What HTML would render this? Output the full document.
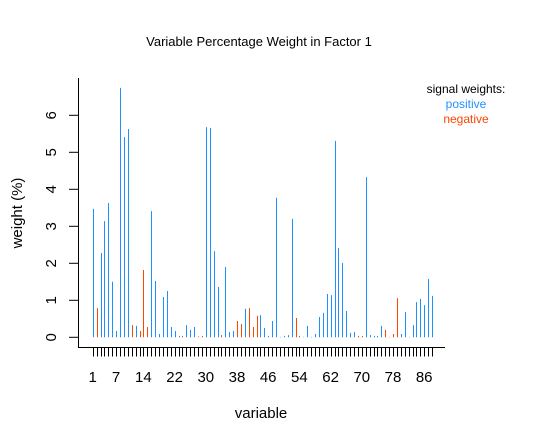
<!DOCTYPE html>
<html><head><meta charset="utf-8"><style>
body{margin:0;background:#fff}
svg{display:block;font-family:"Liberation Sans",Arial,sans-serif}
</style></head><body>
<svg id="chart" width="541" height="445" viewBox="0 0 541 445">
<text x="259" y="46" font-size="13" text-anchor="middle">Variable Percentage Weight in Factor 1</text>
<line x1="78.5" y1="78" x2="78.5" y2="347.5" stroke="#000"/>
<line x1="78" y1="347.5" x2="445" y2="347.5" stroke="#000"/>
<g id="yaxis"></g>
<g id="xaxis"></g>
<g id="bars"></g>
<text transform="translate(22,213) rotate(-90)" font-size="15" text-anchor="middle">weight (%)</text>
<text x="261" y="418" font-size="15" text-anchor="middle">variable</text>
<g>
<text x="466" y="93" font-size="12" text-anchor="middle">signal weights:</text>
<text x="466" y="108" font-size="12" text-anchor="middle" fill="#1E90FF">positive</text>
<text x="466" y="123" font-size="12" text-anchor="middle" fill="#FF4500">negative</text>
</g>
</svg>
<script>
const weights=[3.47,0.79,2.28,3.14,3.63,1.50,0.17,6.74,5.41,5.63,0.33,0.31,0.17,1.82,0.28,3.41,1.52,0.09,1.09,1.25,0.28,0.17,0.04,0.04,0.33,0.20,0.28,0.02,0.04,5.68,5.66,2.33,1.36,0.06,1.90,0.14,0.17,0.44,0.36,0.77,0.79,0.28,0.58,0.60,0.25,0.04,0.44,3.77,0.01,0.04,0.06,3.20,0.52,0.04,0.01,0.31,0.01,0.09,0.55,0.66,1.17,1.14,5.31,2.41,2.01,0.71,0.12,0.14,0.04,0.04,4.33,0.06,0.04,0.04,0.31,0.20,0.01,0.09,1.06,0.09,0.68,0.01,0.33,0.95,1.04,0.87,1.58,1.12];
const signs=[1,-1,1,1,1,1,1,1,1,1,-1,1,-1,-1,-1,1,1,1,1,1,1,1,1,-1,1,1,1,-1,-1,1,1,1,1,-1,1,1,1,-1,-1,1,-1,-1,-1,1,1,1,1,1,1,1,1,1,-1,-1,1,1,1,1,1,1,1,1,1,1,1,1,1,1,-1,-1,1,1,1,1,1,-1,-1,-1,-1,1,1,-1,1,1,1,1,1,1];
const yTicks=[0,1,2,3,4,5,6];
const xLabels=[1,7,14,22,30,38,46,54,62,70,78,86];
const NS="http://www.w3.org/2000/svg";
function xs(i){return 92.7+(i-1)*3.9;}
function ys(v){return 337.3-v*37;}
function mk(t,a,p){const e=document.createElementNS(NS,t);for(const k in a)e.setAttribute(k,a[k]);p.appendChild(e);return e;}
const yg=document.getElementById('yaxis'),xg=document.getElementById('xaxis'),bg=document.getElementById('bars');
yTicks.forEach(v=>{
 const l=mk('line',{x1:69,x2:78.5,y1:ys(v),y2:ys(v),stroke:'#000'},yg);
 
 
 const t=mk('text',{transform:`translate(56,${ys(v)}) rotate(-90)`,'font-size':15,'text-anchor':'middle'},yg);
 t.textContent=v;
 
 
});
weights.forEach((w,k)=>{
 const x=Math.round(xs(k+1))+0.5;
 const tk=mk('line',{x1:x,x2:x,y1:347.5,y2:356.5,stroke:'#000'},xg);
 
 
 const b=mk('line',{x1:x,x2:x,y1:ys(0),y2:ys(w),stroke:signs[k]>0?'#1E90FF':'#FF4500','stroke-width':1},bg);
 
 
});
xLabels.forEach(v=>{
 const t=mk('text',{x:xs(v),y:382,'font-size':15,'text-anchor':'middle'},xg);
 t.textContent=v;
 
 
});
</script>
</body></html>
